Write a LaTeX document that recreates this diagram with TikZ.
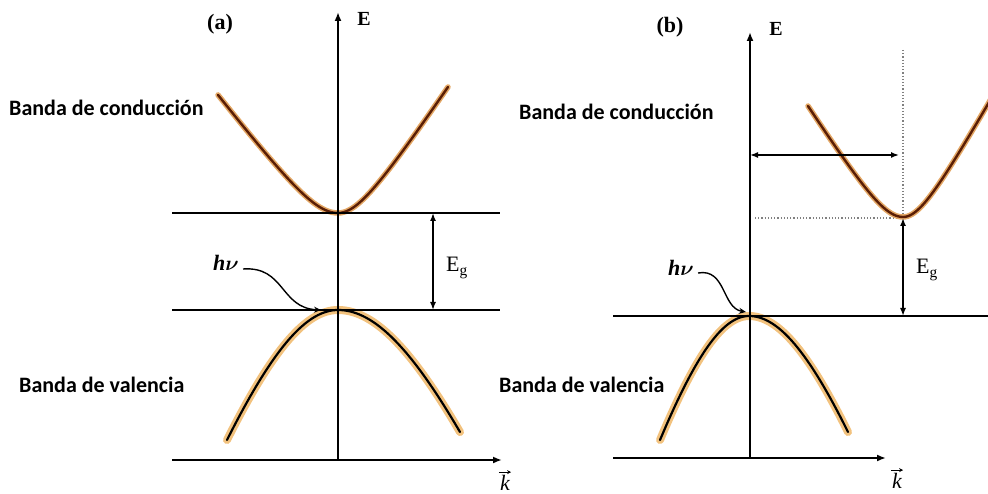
\documentclass[tikz,border=0pt]{standalone}
\usepackage{amsmath}
\usepackage{bm}
\usepackage{fontspec}
\setmainfont{Liberation Serif}
\newfontfamily\labfont{Carlito}
\usetikzlibrary{arrows.meta}
\definecolor{cbcore}{HTML}{5A1E05}
\definecolor{cbglow}{HTML}{E3A765}
\definecolor{vbglow}{HTML}{F2C27E}
\tikzset{
  axis/.style={line width=1.8pt, black},
  axarrow/.style={axis, -{Latex[length=9pt,width=7pt]}},
  dblarrow/.style={line width=1.5pt, {Latex[length=8pt,width=6pt]}-{Latex[length=8pt,width=6pt]}},
  cglow/.style={line width=5.5pt, cbglow, line cap=round},
  ccore/.style={line width=2.4pt, cbcore, line cap=round},
  vglow/.style={line width=8pt, vbglow, line cap=round},
  vcore/.style={line width=2.2pt, black, line cap=round},
  bandlabel/.style={font=\labfont\bfseries\fontsize{22}{22}\selectfont, inner sep=0pt, anchor=west},
  panel/.style={font=\bfseries\fontsize{22}{22}\selectfont, inner sep=0pt},
  axl/.style={font=\bfseries\fontsize{20}{20}\selectfont, inner sep=0pt},
  egl/.style={font=\fontsize{22}{22}\selectfont, inner sep=0pt},
  hvl/.style={font=\bfseries\itshape\fontsize{22}{22}\selectfont, inner sep=0pt},
  kl/.style={font=\itshape\fontsize{22}{22}\selectfont, inner sep=0pt},
  vecarrow/.style={line width=1pt, -{Stealth[length=4pt,width=4pt]}},
  guide/.style={gray, dotted, line width=1.2pt},
  hvarrow/.style={line width=1.4pt, -{Stealth[length=7pt,width=6pt]}},
}
\begin{document}
\begin{tikzpicture}[x=1pt,y=-1pt]
\useasboundingbox (0,0) rectangle (988,494);
\clip (0,0) rectangle (988,494);
% ---------- panel (a) ----------
\coordinate (aEbot) at (338,460);
\coordinate (aEtop) at (338,12);
\coordinate (aCL) at (172,213);
\coordinate (aCR) at (500,213);
\coordinate (aVL) at (172,310);
\coordinate (aVR) at (500,310);
\coordinate (aKL) at (172,460);
\coordinate (aKR) at (502,460);
\coordinate (aEgT) at (433,213);
\coordinate (aEgB) at (433,310);
\coordinate (aHvEnd) at (321,310);
% bands (a)
\draw[cglow] plot[domain=-120:0,samples=40] ({338+\x},{213-45*(sqrt(1+(1.306*\x/45)^2)-1)})
  -- plot[domain=0:110,samples=40] ({338+\x},{213-45*(sqrt(1+(1.5*\x/45)^2)-1)});
\draw[ccore] plot[domain=-120:0,samples=40] ({338+\x},{213-45*(sqrt(1+(1.306*\x/45)^2)-1)})
  -- plot[domain=0:110,samples=40] ({338+\x},{213-45*(sqrt(1+(1.5*\x/45)^2)-1)});
\draw[vglow] plot[domain=-111:0,samples=40] ({338+\x},{310+300*(sqrt(1+(2.775*\x/300)^2)-1)})
  -- plot[domain=0:122,samples=40] ({338+\x},{310+300*(sqrt(1+(2.433*\x/300)^2)-1)});
\draw[vcore] plot[domain=-111:0,samples=40] ({338+\x},{310+300*(sqrt(1+(2.775*\x/300)^2)-1)})
  -- plot[domain=0:122,samples=40] ({338+\x},{310+300*(sqrt(1+(2.433*\x/300)^2)-1)});
% axes (a)
\draw[axarrow] (aEbot) -- (aEtop);
\draw[axis] (aCL) -- (aCR);
\draw[axis] (aVL) -- (aVR);
\draw[axarrow] (aKL) -- (aKR);
\draw[dblarrow] (aEgT) -- (aEgB);
% labels (a)
\node[panel] (alab) at (220,24) {(a)};
\node[axl] (aE) at (364,19) {E};
\node[bandlabel] (acond) at (9,108) {Banda de conducción};
\node[bandlabel] (aval) at (19,385) {Banda de valencia};
\node[egl] (aEg) at (457,268) {E\textsubscript{g}};
\node[hvl] (ahv) at (226,263) {h$\bm{\nu}$};
\node[kl] (ak) at (505,483) {k};
\draw[vecarrow] ([xshift=-1pt,yshift=3pt]ak.north west) -- ([xshift=1pt,yshift=3pt]ak.north east);
\draw[hvarrow] (ahv.east) ++(4,6) .. controls (285,266) and (280,308) .. (aHvEnd);
% ---------- panel (b) ----------
\coordinate (bEbot) at (750,458);
\coordinate (bEtop) at (750,32);
\coordinate (bVL) at (613,316);
\coordinate (bVR) at (988,316);
\coordinate (bKL) at (613,458);
\coordinate (bKR) at (886,458);
\coordinate (bEgT) at (903,218);
\coordinate (bEgB) at (903,316);
\coordinate (bDotT) at (903,50);
\coordinate (bDotB) at (903,217);
\coordinate (bDotL) at (755,218);
\coordinate (bHL) at (750,155);
\coordinate (bHR) at (899,155);
\coordinate (bHvEnd) at (746,312);
% guides
\draw[guide] (bDotT) -- (bDotB);
\draw[guide] (bDotL) -- (bEgT);
% bands (b)
\draw[cglow] plot[domain=-95:0,samples=40] ({903+\x},{217-45*(sqrt(1+(1.572*\x/45)^2)-1)})
  -- plot[domain=0:90,samples=40] ({903+\x},{217-45*(sqrt(1+(1.782*\x/45)^2)-1)});
\draw[ccore] plot[domain=-95:0,samples=40] ({903+\x},{217-45*(sqrt(1+(1.572*\x/45)^2)-1)})
  -- plot[domain=0:90,samples=40] ({903+\x},{217-45*(sqrt(1+(1.782*\x/45)^2)-1)});
\draw[vglow] plot[domain=-89:0,samples=40] ({749+\x},{316+300*(sqrt(1+(3.367*\x/300)^2)-1)})
  -- plot[domain=0:99,samples=40] ({749+\x},{316+300*(sqrt(1+(2.911*\x/300)^2)-1)});
\draw[vcore] plot[domain=-89:0,samples=40] ({749+\x},{316+300*(sqrt(1+(3.367*\x/300)^2)-1)})
  -- plot[domain=0:99,samples=40] ({749+\x},{316+300*(sqrt(1+(2.911*\x/300)^2)-1)});
% axes (b)
\draw[axarrow] (bEbot) -- (bEtop);
\draw[axis] (bVL) -- (bVR);
\draw[axarrow] (bKL) -- (bKR);
\draw[dblarrow] (bEgT) -- (bEgB);
\draw[dblarrow] (bHL) -- (bHR);
% labels (b)
\node[panel] (blab) at (670,27) {(b)};
\node[axl] (bE) at (776,29) {E};
\node[bandlabel] (bcond) at (519,112) {Banda de conducción};
\node[bandlabel] (bval) at (499,385) {Banda de valencia};
\node[egl] (bEg) at (927,270) {E\textsubscript{g}};
\node[hvl] (bhv) at (681,268) {h$\bm{\nu}$};
\node[kl] (bk) at (897,481) {k};
\draw[vecarrow] ([xshift=-1pt,yshift=3pt]bk.north west) -- ([xshift=1pt,yshift=3pt]bk.north east);
\draw[hvarrow] (bhv.east) ++(4,5) .. controls (726,268) and (722,308) .. (bHvEnd);
\end{tikzpicture}
\end{document}
